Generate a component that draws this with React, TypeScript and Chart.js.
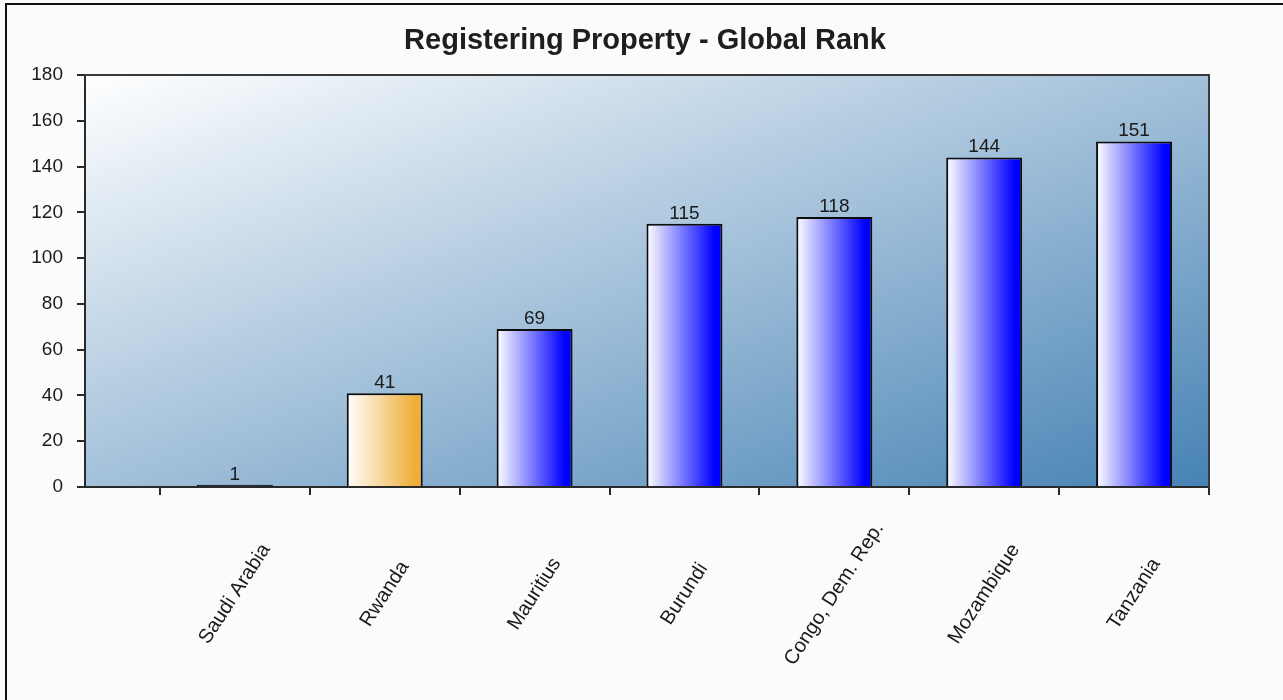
import React, { useEffect, useRef } from 'react';
import { Chart, registerables } from 'chart.js';

Chart.register(...registerables);

const TITLE = 'Registering Property - Global Rank';
const categories = ['Saudi Arabia', 'Rwanda', 'Mauritius', 'Burundi', 'Congo, Dem. Rep.', 'Mozambique', 'Tanzania'];
const ranks = [1, 41, 69, 115, 118, 144, 151];
const yTicks = [0, 20, 40, 60, 80, 100, 120, 140, 160, 180];
const highlighted = 'Rwanda';

const FONT = '"Liberation Sans", Arial, Helvetica, sans-serif';
const BLUE = '#0000FF';
const ORANGE = '#EEAE38';
const OUTLINE = '#0d0d0d';
const BAR_PCT = 0.507;

const plotPlugin = {
  id: 'plotDecor',
  beforeDraw(chart: any) {
    const { ctx, chartArea: a } = chart;
    const w = a.right - a.left;
    const h = a.bottom - a.top;
    // gradient perpendicular to the plot's anti-diagonal
    const n = Math.hypot(w, h);
    const ux = h / n, uy = w / n;
    const len = w * ux + h * uy;
    const g = ctx.createLinearGradient(a.left, a.top, a.left + ux * len, a.top + uy * len);
    g.addColorStop(0, '#FFFFFF');
    g.addColorStop(1, '#4682B4');
    ctx.save();
    ctx.fillStyle = g;
    ctx.fillRect(a.left, a.top, w, h);

    // title, centred over the plot area
    ctx.fillStyle = '#1e1e1e';
    ctx.font = `bold 29px ${FONT}`;
    ctx.textAlign = 'center';
    ctx.textBaseline = 'alphabetic';
    ctx.fillText(TITLE, (a.left + a.right) / 2 - 2, a.top - 26);
    ctx.restore();
  },
  afterDatasetsDraw(chart: any) {
    const { ctx, chartArea: a } = chart;
    ctx.save();
    // top and right outline
    ctx.strokeStyle = '#3a3a3a';
    ctx.lineWidth = 2;
    ctx.beginPath();
    ctx.moveTo(a.left, a.top);
    ctx.lineTo(a.right, a.top);
    ctx.lineTo(a.right, a.bottom);
    ctx.stroke();

    // value labels
    const meta = chart.getDatasetMeta(0);
    ctx.fillStyle = '#1a1a1a';
    ctx.font = `19px ${FONT}`;
    ctx.textAlign = 'center';
    ctx.textBaseline = 'alphabetic';
    meta.data.forEach((bar: any, i: number) => {
      ctx.fillText(String(ranks[i]), bar.x, bar.y - 5);
    });

    // category labels, rotated about their centre
    const xs = chart.scales.x;
    ctx.font = `20px ${FONT}`;
    ctx.textBaseline = 'middle';
    categories.forEach((c, i) => {
      const x = xs.getPixelForValue(i);
      ctx.save();
      ctx.translate(x, a.bottom + 107);
      ctx.rotate((-57 * Math.PI) / 180);
      ctx.fillText(c, 0, 0);
      ctx.restore();
    });
    ctx.restore();
  },
};

function barFill(ctx: any) {
  const chart = ctx.chart;
  const xs = chart.scales.x;
  const ys = chart.scales.y;
  const i = ctx.dataIndex;
  const color = categories[i] === highlighted ? ORANGE : BLUE;
  if (!xs || !ys) return color;
  const cx = xs.getPixelForValue(i);
  if (!isFinite(cx)) return color;
  // very short bars are all outline
  const hPix = ys.getPixelForValue(0) - ys.getPixelForValue(ranks[i]);
  if (isFinite(hPix) && hPix < 4) return OUTLINE;
  const step = Math.abs(xs.getPixelForValue(1) - xs.getPixelForValue(0));
  const half = (step * BAR_PCT) / 2;
  const g = chart.ctx.createLinearGradient(cx - half, 0, cx + half, 0);
  g.addColorStop(0, '#FFFFFF');
  g.addColorStop(0.9, color);
  g.addColorStop(1, color);
  return g;
}

export default function App() {
  const ref = useRef<HTMLCanvasElement | null>(null);

  useEffect(() => {
    if (!ref.current) return;
    const boundaries = [-0.5, ...categories.map((_, i) => i + 0.5)];
    const chart = new Chart(ref.current, {
      type: 'bar',
      data: {
        datasets: [
          {
            data: ranks.map((v, i) => ({ x: i, y: v })),
            backgroundColor: barFill,
            borderColor: OUTLINE,
            borderWidth: 2,
            barPercentage: BAR_PCT,
            categoryPercentage: 1,
          },
        ],
      },
      options: {
        animation: false,
        responsive: false,
        maintainAspectRatio: false,
        layout: { padding: { left: 0, right: 74, top: 75, bottom: 205 } },
        plugins: {
          legend: { display: false },
          tooltip: { enabled: false },
          title: { display: false },
        },
        scales: {
          x: {
            type: 'linear',
            min: -1,
            max: categories.length - 0.5,
            offset: false,
            afterBuildTicks: (s: any) => {
              s.ticks = boundaries.map((v) => ({ value: v }));
            },
            afterFit: (s: any) => {
              s.height = 8;
            },
            ticks: { display: false },
            grid: {
              display: true,
              offset: false,
              drawOnChartArea: false,
              drawTicks: true,
              tickLength: 8,
              color: '#2a2a2a',
              lineWidth: 2,
            },
            border: { display: true, color: '#2a2a2a', width: 2 },
          },
          y: {
            type: 'linear',
            min: yTicks[0],
            max: yTicks[yTicks.length - 1],
            afterBuildTicks: (s: any) => {
              s.ticks = yTicks.map((v) => ({ value: v }));
            },
            afterFit: (s: any) => {
              s.width = 85;
            },
            ticks: {
              color: '#1a1a1a',
              font: { size: 19, family: FONT },
              padding: 14,
            },
            grid: {
              display: true,
              drawOnChartArea: false,
              drawTicks: true,
              tickLength: 8,
              color: '#2a2a2a',
              lineWidth: 2,
            },
            border: { display: true, color: '#2a2a2a', width: 2 },
          },
        },
      },
      plugins: [plotPlugin],
    } as any);
    return () => chart.destroy();
  }, []);

  return (
    <div
      style={{
        position: 'fixed',
        left: 0,
        top: 0,
        width: 1283,
        height: 700,
        background: '#FAFBFD',
        overflow: 'hidden',
      }}
    >
      <div
        style={{
          position: 'absolute',
          left: 5,
          top: 3,
          width: 3000,
          height: 3000,
          borderTop: '2px solid #111',
          borderLeft: '2px solid #111',
        }}
      />
      <canvas ref={ref} width={1283} height={700} style={{ position: 'absolute', left: 0, top: 0 }} />
    </div>
  );
}
